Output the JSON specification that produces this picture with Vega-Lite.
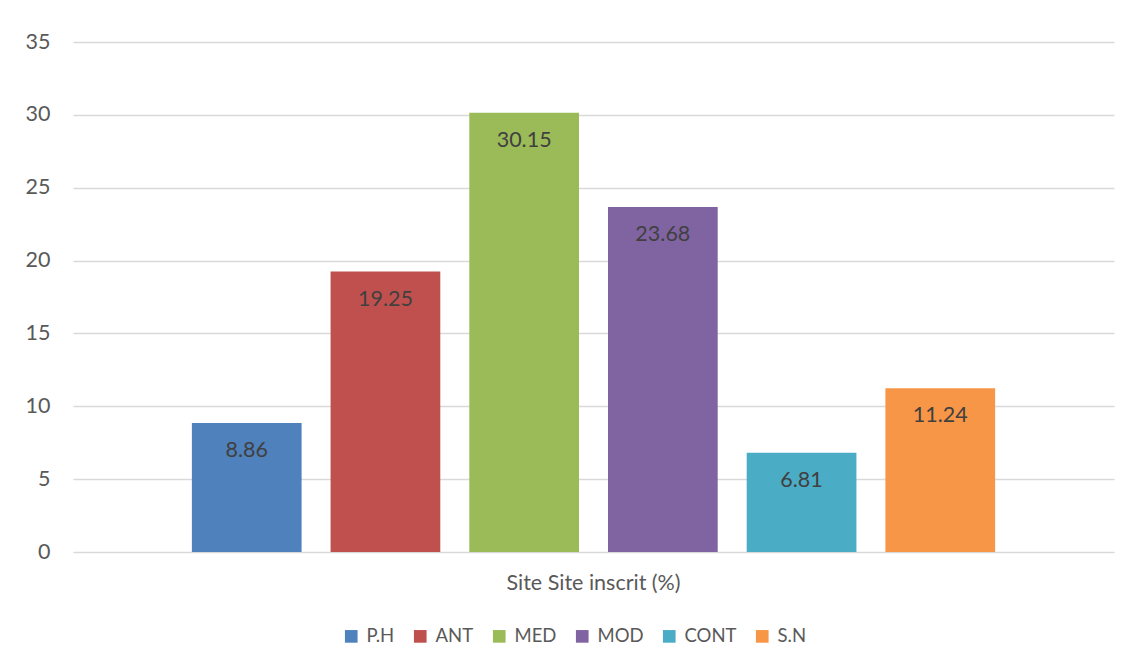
{
  "$schema": "https://vega.github.io/schema/vega-lite/v6.json",
  "width": 1041,
  "height": 510,
  "autosize": "none",
  "padding": {"left": 73, "top": 42, "right": 18, "bottom": 117},
  "background": "white",
  "config": {
    "view": {"stroke": null},
    "font": "Lato",
    "axis": {"labelFont": "Lato", "labelColor": "#595959", "labelFontSize": 21.5}
  },
  "data": {
    "values": [
      {"category": "Site Site inscrit (%)", "series": "P.H", "value": 8.86},
      {"category": "Site Site inscrit (%)", "series": "ANT", "value": 19.25},
      {"category": "Site Site inscrit (%)", "series": "MED", "value": 30.15},
      {"category": "Site Site inscrit (%)", "series": "MOD", "value": 23.68},
      {"category": "Site Site inscrit (%)", "series": "CONT", "value": 6.81},
      {"category": "Site Site inscrit (%)", "series": "S.N", "value": 11.24}
    ]
  },
  "encoding": {
    "x": {
      "field": "category",
      "type": "nominal",
      "scale": {"paddingInner": 0, "paddingOuter": 0.148},
      "axis": {"title": null, "labelAngle": 0, "ticks": false, "domain": false, "labelPadding": 20, "grid": false}
    },
    "xOffset": {
      "field": "series",
      "type": "nominal",
      "sort": ["P.H", "ANT", "MED", "MOD", "CONT", "S.N"],
      "scale": {"paddingInner": 0.209, "paddingOuter": 0}
    },
    "y": {
      "field": "value",
      "type": "quantitative",
      "scale": {"domain": [0, 35], "nice": false},
      "axis": {"title": null, "values": [0, 5, 10, 15, 20, 25, 30, 35], "ticks": false, "domain": false, "grid": true, "gridColor": "#D9D9D9", "gridWidth": 1.5, "labelPadding": 23}
    }
  },
  "layer": [
    {
      "mark": {"type": "bar"},
      "encoding": {
        "color": {
          "field": "series",
          "type": "nominal",
          "sort": ["P.H", "ANT", "MED", "MOD", "CONT", "S.N"],
          "scale": {"domain": ["P.H", "ANT", "MED", "MOD", "CONT", "S.N"], "range": ["#4F81BD", "#C0504D", "#9BBB59", "#8064A2", "#4BACC6", "#F79646"]},
          "legend": {
            "title": null,
            "orient": "none",
            "direction": "horizontal",
            "legendX": 269,
            "legendY": 585,
            "symbolType": "square",
            "symbolSize": 160,
            "symbolStrokeWidth": 0,
            "labelFont": "Lato",
            "labelFontSize": 18.5,
            "labelColor": "#595959",
            "labelOffset": 6,
            "columnPadding": 16
          }
        }
      }
    },
    {
      "mark": {"type": "text", "baseline": "middle", "dy": 28, "fontSize": 21.5, "font": "Lato", "color": "#404040"},
      "encoding": {
        "text": {"field": "value", "type": "quantitative", "format": ".2f"}
      }
    }
  ]
}
